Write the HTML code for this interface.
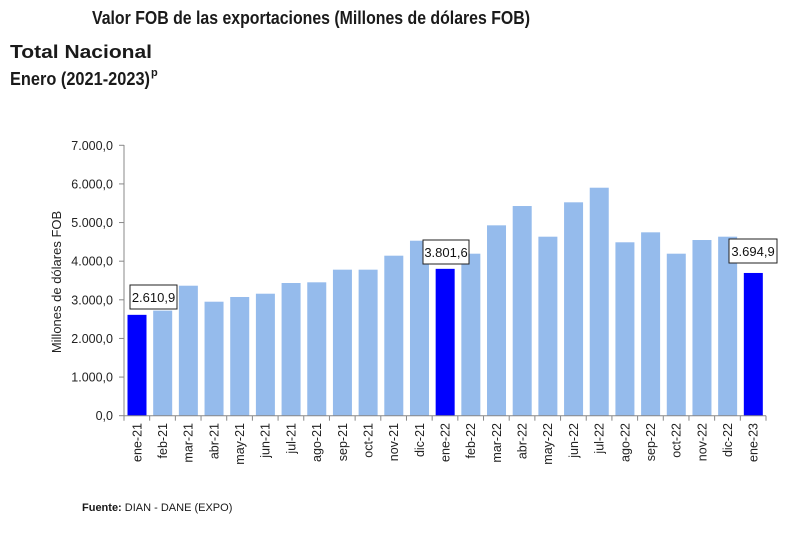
<!DOCTYPE html>
<html><head><meta charset="utf-8"><style>
body{margin:0;background:#fff;}
svg{display:block;font-family:"Liberation Sans",sans-serif;}
</style></head><body>
<svg width="800" height="533" viewBox="0 0 800 533" xmlns="http://www.w3.org/2000/svg">
<text x="92" y="24" font-size="18" font-weight="bold" fill="#1a1a1a" textLength="438" lengthAdjust="spacingAndGlyphs">Valor FOB de las exportaciones (Millones de dólares FOB)</text>
<text x="10" y="58" font-size="18" font-weight="bold" fill="#1a1a1a" textLength="142" lengthAdjust="spacingAndGlyphs">Total Nacional</text>
<text x="10" y="85" font-size="18" font-weight="bold" fill="#1a1a1a" textLength="140" lengthAdjust="spacingAndGlyphs">Enero (2021-2023)</text>
<text x="151" y="76" font-size="11" font-weight="bold" fill="#1a1a1a">p</text>
<g id="chart"></g>
<text x="82" y="511" font-size="11" fill="#1a1a1a"><tspan font-weight="bold">Fuente:</tspan> DIAN  - DANE (EXPO)</text>
</svg>
<script>
const vals=[2610.9,2720,3365,2951,3073,3158,3435,3453,3780,3780,4142,4530,3801.6,4194,4928,5428,4634,5524,5902,4489,4747,4194,4548,4634,3694.9];
const labs=["ene-21","feb-21","mar-21","abr-21","may-21","jun-21","jul-21","ago-21","sep-21","oct-21","nov-21","dic-21","ene-22","feb-22","mar-22","abr-22","may-22","jun-22","jul-22","ago-22","sep-22","oct-22","nov-22","dic-22","ene-23"];
const x0=124,y0=415.7,k=0.03863,cw=25.68;
let s='';
for(let i=0;i<=7;i++){const y=y0-i*1000*k;s+=`<line x1="${x0-5}" x2="${x0}" y1="${y}" y2="${y}" stroke="#888"/>`;
s+=`<text x="113" y="${y+4.5}" font-size="12.5" text-anchor="end" fill="#222">${(i?i+'.000':'0')},0</text>`;}
vals.forEach((v,i)=>{const hl=(i==0||i==12||i==24);const x=x0+i*cw+3.5,h=v*k;
s+=`<rect x="${x}" y="${y0-h}" width="19" height="${h}" fill="${hl?'#0000ff':'#95bbec'}"/>`;
const cx=x0+i*cw+cw/2;
s+=`<text transform="translate(${cx+4.5},423) rotate(-90)" font-size="12.5" text-anchor="end" fill="#222">${labs[i]}</text>`;});
for(let i=0;i<=25;i++){const x=x0+i*cw;s+=`<line x1="${x}" x2="${x}" y1="${y0}" y2="${y0+5}" stroke="#888"/>`;}
s+=`<line x1="${x0}" x2="${x0}" y1="145" y2="${y0}" stroke="#888"/><line x1="${x0}" x2="${x0+25*cw}" y1="${y0}" y2="${y0}" stroke="#888"/>`;
[[130,285,47,'2.610,9'],[423,240,46,'3.801,6'],[729,239,48,'3.694,9']].forEach(b=>{
s+=`<rect x="${b[0]}" y="${b[1]}" width="${b[2]}" height="24" fill="#fff" stroke="#222" stroke-width="1"/>`;
s+=`<text x="${b[0]+b[2]/2}" y="${b[1]+17}" font-size="13" text-anchor="middle" fill="#111">${b[3]}</text>`;});
s+=`<text transform="translate(61,282) rotate(-90)" font-size="13" text-anchor="middle" fill="#222">Millones de dólares FOB</text>`;
document.getElementById('chart').innerHTML=s;
</script>
</body></html>
